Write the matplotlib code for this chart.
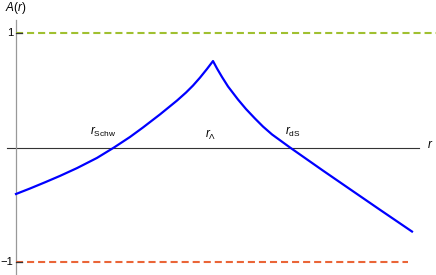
import matplotlib
matplotlib.use("Agg")
import matplotlib.pyplot as plt

plt.rcParams['mathtext.fontset'] = 'custom'
plt.rcParams['mathtext.rm'] = 'Liberation Sans'
plt.rcParams['mathtext.it'] = 'Liberation Sans:italic'
plt.rcParams['font.family'] = ['Liberation Sans', 'DejaVu Sans']

# curve A(r)
r_vals = [0.0, 0.354, 0.732, 1.111, 1.540, 2.045, 2.475, 2.879, 3.207, 3.636,
          4.066, 4.293, 4.470, 4.646, 4.823, 4.975,
          5.076, 5.202, 5.354, 5.606, 5.808, 6.035, 6.237, 6.465, 6.692, 6.919,
          7.753, 8.434, 9.192, 10.0]
A_vals = [-0.406, -0.358, -0.304, -0.248, -0.180, -0.091, 0.0, 0.092, 0.175, 0.289,
          0.410, 0.480, 0.541, 0.610, 0.686, 0.755,
          0.690, 0.616, 0.533, 0.419, 0.336, 0.253, 0.183, 0.114, 0.057, 0.0,
          -0.202, -0.364, -0.544, -0.734]

upper_level = 1.0
lower_level = -1.0
upper_range = [0.0, 10.6]
lower_range = [0.0, 9.9]

tick_vals = [1, -1]
tick_labels = ['1', '\u22121']

markers = [(2.2, 0.14, r'$r_{\mathrm{Schw}}$'),
           (4.92, 0.11, r'$r_{\Lambda}$'),
           (6.98, 0.14, r'$r_{\mathrm{dS}}$')]

W, H = 436, 275
fig = plt.figure(figsize=(W / 100, H / 100), dpi=100)
ax = fig.add_axes([0, 0, 1, 1])
px_per_r = 39.6
px_per_A = 114.5
x0_px, y0_px = 16, 147.5
ax.set_xlim(-x0_px / px_per_r, (W - x0_px) / px_per_r)
ax.set_ylim((y0_px - H) / px_per_A, y0_px / px_per_A)
ax.axis('off')

# axes lines
ax.plot([-9 / px_per_r, 403 / px_per_r], [0, 0], color='#333333', lw=0.8, zorder=1)
ax.plot([0, 0], [(y0_px - H) / px_per_A, (y0_px - 20) / px_per_A], color='#999999', lw=0.9, zorder=1)

# dashed levels
ax.plot(upper_range, [upper_level] * 2, color='#A0C030', lw=1.5, dashes=(3.4, 1.9), zorder=2)
ax.plot(lower_range, [lower_level] * 2, color='#EA6537', lw=1.5, dashes=(3.4, 1.9), zorder=2)

# ticks
for v, lab in zip(tick_vals, tick_labels):
    ax.plot([0, 6 / px_per_r], [v, v], color='#333333', lw=0.9, zorder=3)
    ax.text(-3 / px_per_r, v, lab, ha='right', va='center', fontsize=8)

# curve
ax.plot(r_vals, A_vals, color='#0000FF', lw=1.6, zorder=4,
        solid_joinstyle='round')

# labels
for x, y, s in markers:
    ax.text(x, y, s, ha='center', va='center', fontsize=8.5)

ax.text(-11 / px_per_r, (y0_px - 7.5) / px_per_A, r'$A(r)$', ha='left', va='center', fontsize=8.5)
ax.text(414 / px_per_r, 0.02, r'$r$', ha='center', va='center', fontsize=8.5)

fig.savefig('out.png', dpi=100)
